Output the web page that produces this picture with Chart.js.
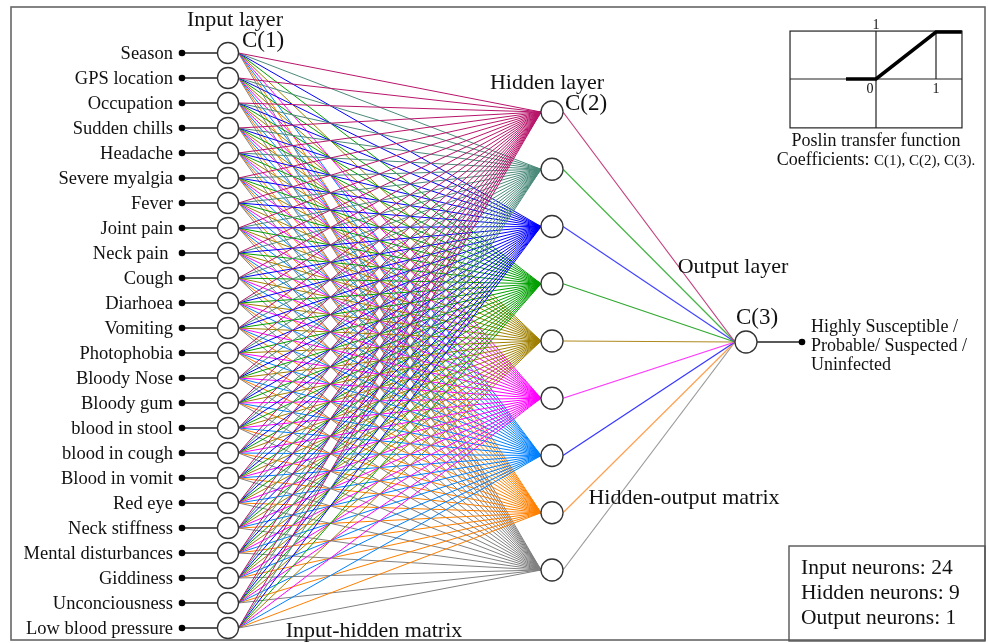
<!DOCTYPE html>
<html><head><meta charset="utf-8">
<script src="https://cdn.jsdelivr.net/npm/chart.js@4/dist/chart.umd.min.js"></script>
<style>html,body{margin:0;padding:0;background:#fff;overflow:hidden}canvas{display:block}</style>
</head><body>
<canvas id="c" width="989" height="643"></canvas>
<script>
// ---------- data ----------
const inputLabels = ['Season','GPS location','Occupation','Sudden chills','Headache','Severe myalgia','Fever','Joint pain','Neck pain ','Cough','Diarhoea','Vomiting','Photophobia','Bloody Nose','Bloody gum','blood in stool','blood in cough','Blood in vomit','Red eye','Neck stiffness','Mental disturbances','Giddiness','Unconciousness','Low blood pressure'];
const hiddenIds = ['H1','H2','H3','H4','H5','H6','H7','H8','H9'];
const inHiddenColors = ['#b8146a','#4a8a7a','#0000ff','#00a000','#a08000','#ff00ff','#0080ff','#ff8000','#808080'];
const hiddenOutColors = ['#c4407e','#44b444','#4444ff','#30a830','#b08a20','#ff33ff','#3535ff','#ffa050','#9a9a9a'];
const outputLabelLines = ['Highly Susceptible /','Probable/ Suspected /','Uninfected'];
const poslinX = [-0.5, 0, 1, 1.43];
const poslinY = [0, 0, 1, 1];
const summaryLines = ['Input neurons: 24','Hidden neurons: 9','Output neurons: 1'];

// ---------- layout ----------
const L = {
  inX:228, inY0:53, inDy:25, inR:10.5, dotX:182, labelX:173,
  hX:552, hY0:112, hDy:57.25, hR:11,
  outX:746, outY:342, outR:11, outDotX:802,
  insX0:876, insY0:79, insUx:60, insUy:47,
  serif:'"Liberation Serif","Times New Roman",serif'
};
const inY = i => L.inY0 + L.inDy*i;
const hY = j => L.hY0 + L.hDy*j;
const insP = (x,y) => ({x: L.insX0 + L.insUx*x, y: L.insY0 - L.insUy*y});

const datasets = [];
// neurons (on top)
const neuronPts = [];
inputLabels.forEach((_,i)=>neuronPts.push({x:L.inX,y:inY(i),r:L.inR}));
hiddenIds.forEach((_,j)=>neuronPts.push({x:L.hX,y:hY(j),r:L.hR}));
neuronPts.push({x:L.outX,y:L.outY,r:L.outR});
datasets.push({type:'scatter',data:neuronPts.map(p=>({x:p.x,y:p.y})),order:0,
  pointRadius:neuronPts.map(p=>p.r),pointBackgroundColor:'#ffffff',pointBorderColor:'#333333',pointBorderWidth:1.3,showLine:false});
// input dots
const dotPts = inputLabels.map((_,i)=>({x:L.dotX,y:inY(i)}));
dotPts.push({x:L.outDotX,y:L.outY});
datasets.push({type:'scatter',data:dotPts,order:0,pointRadius:3.3,pointBackgroundColor:'#000',pointBorderWidth:0,showLine:false});
// input stubs
inputLabels.forEach((_,i)=>datasets.push({type:'scatter',showLine:true,order:2,borderColor:'#222',borderWidth:1.4,pointRadius:0,
  data:[{x:L.dotX,y:inY(i)},{x:L.inX-L.inR,y:inY(i)}]}));
datasets.push({type:'scatter',showLine:true,order:2,borderColor:'#222',borderWidth:1.4,pointRadius:0,
  data:[{x:L.outX+L.outR,y:L.outY},{x:L.outDotX,y:L.outY}]});
// input-hidden connections
hiddenIds.forEach((_,j)=>{
  inputLabels.forEach((_,i)=>{
    datasets.push({type:'scatter',showLine:true,order:3+j,borderColor:inHiddenColors[j],borderWidth:1,pointRadius:0,
      data:[{x:L.inX+L.inR,y:inY(i)},{x:L.hX-L.hR,y:hY(j)}]});
  });
});
// hidden-output connections
hiddenIds.forEach((_,j)=>{
  datasets.push({type:'scatter',showLine:true,order:1,borderColor:hiddenOutColors[j],borderWidth:1.2,pointRadius:0,
    data:[{x:L.hX+L.hR,y:hY(j)},{x:L.outX-L.outR,y:L.outY}]});
});
// poslin transfer function
datasets.push({type:'scatter',showLine:true,order:0,borderColor:'#000',borderWidth:3.5,pointRadius:0,borderCapStyle:'butt',
  data:poslinX.map((x,k)=>insP(x,poslinY[k]))});

const deco = {
  id:'deco',
  beforeDatasetsDraw(chart){
    const {ctx,scales:{x,y}} = chart;
    const X=v=>x.getPixelForValue(v), Y=v=>y.getPixelForValue(v);
    ctx.save();
    ctx.fillStyle='#fff';ctx.fillRect(0,0,chart.width,chart.height);
    ctx.strokeStyle='#666';ctx.lineWidth=1.6;
    ctx.strokeRect(X(11),Y(7),X(985)-X(11),Y(640)-Y(7));
    // inset box
    ctx.strokeStyle='#222';ctx.lineWidth=1.2;
    const a=insP(-1.433,1.02), b=insP(1.433,-1.04);
    ctx.strokeRect(X(a.x),Y(a.y),X(b.x)-X(a.x),Y(b.y)-Y(a.y));
    ctx.beginPath();
    let p=insP(0,1.02),q=insP(0,-1.04);ctx.moveTo(X(p.x),Y(p.y));ctx.lineTo(X(q.x),Y(q.y));
    p=insP(-1.433,0);q=insP(1.433,0);ctx.moveTo(X(p.x),Y(p.y));ctx.lineTo(X(q.x),Y(q.y));
    p=insP(1,1.02);q=insP(1,0);ctx.moveTo(X(p.x),Y(p.y));ctx.lineTo(X(q.x),Y(q.y));
    ctx.stroke();
    // summary box
    ctx.strokeStyle='#555';ctx.lineWidth=1.4;
    ctx.strokeRect(X(789),Y(546),X(985)-X(789),Y(641)-Y(546));
    ctx.restore();
  },
  afterDatasetsDraw(chart){
    const {ctx,scales:{x,y}} = chart;
    const X=v=>x.getPixelForValue(v), Y=v=>y.getPixelForValue(v);
    ctx.save();
    ctx.fillStyle='#111';ctx.textBaseline='middle';
    const t=(s,px,py,size,align)=>{ctx.font=size+'px '+L.serif;ctx.textAlign=align||'left';ctx.fillText(s,X(px),Y(py));};
    inputLabels.forEach((s,i)=>t(s,L.labelX,inY(i)+1,18.5,'right'));
    t('Input layer',235,20,22,'center');
    t('C(1)',263,41,23,'center');
    t('Hidden layer',547,83,22,'center');
    t('C(2)',586,104,23,'center');
    t('Output layer',733,267,22,'center');
    t('C(3)',757,318,23,'center');
    outputLabelLines.forEach((s,k)=>t(s,811,327+19*k,18,'left'));
    t('Hidden-output matrix',684,498,22,'center');
    t('Input-hidden matrix',374,631,22,'center');
    summaryLines.forEach((s,k)=>t(s,801,568+25*k,21.5,'left'));
    // inset labels
    let p=insP(0,1.02); t('1',p.x,25,14,'center');
    p=insP(0,0); t('0',p.x-6,89,14,'center');
    p=insP(1,0); t('1',p.x,89,14,'center');
    t('Poslin transfer function',876,141,18,'center');
    ctx.font='18px '+L.serif;
    const w1=ctx.measureText('Coefficients: ').width;
    ctx.font='15px '+L.serif;
    const w2=ctx.measureText('C(1), C(2), C(3).').width;
    const sx=876-(w1+w2)/2;
    t('Coefficients: ',sx,160,18,'left');
    t('C(1), C(2), C(3).',sx+w1,161,15,'left');
    ctx.restore();
  }
};

new Chart(document.getElementById('c'),{
  type:'scatter',
  data:{datasets},
  options:{
    responsive:false,animation:false,events:[],
    layout:{padding:0,autoPadding:false},
    plugins:{legend:{display:false},tooltip:{enabled:false}},
    scales:{
      x:{type:'linear',min:0,max:989,display:false},
      y:{type:'linear',min:0,max:643,reverse:true,display:false}
    },
    elements:{line:{tension:0}},
    clip:false
  },
  plugins:[deco]
});
</script>
</body></html>
